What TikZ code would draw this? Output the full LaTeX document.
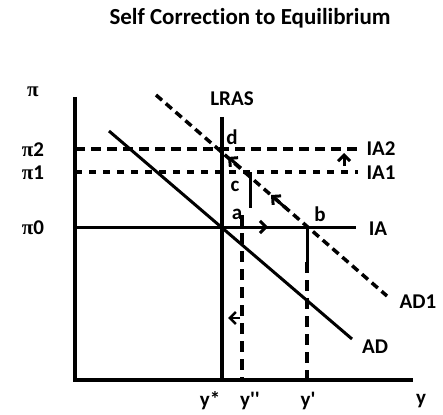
\documentclass[tikz,border=0pt]{standalone}
\usepackage{fontspec}
\setmainfont{Carlito}[Ligatures={TeXOff,CommonOff}]
\newfontfamily\pifont{Liberation Serif}
\usetikzlibrary{arrows.meta}
\begin{document}
\begin{tikzpicture}[x=1pt,y=-1pt,
  axis/.style={line width=3.5pt},
  curve/.style={line width=3pt},
  dashA/.style={line width=3.5pt, dash pattern=on 10pt off 6pt},
  dashB/.style={line width=3.5pt, dash pattern=on 7pt off 7pt},
  dashC/.style={line width=3.5pt, dash pattern=on 11pt off 7pt},
  dashD/.style={line width=3.5pt, dash pattern=on 8pt off 5pt},
  lbl/.style={font=\bfseries\fontsize{21}{21}\selectfont, inner sep=0pt},
  arr/.style={line width=3pt, -{Straight Barb[length=6pt,width=12pt]}}]
\useasboundingbox (0,0) rectangle (443,414);
\node[font=\bfseries\fontsize{23}{23}\selectfont, inner sep=0pt] (title) at (250,18) {Self Correction to Equilibrium};
% coordinates
\coordinate (O) at (75,380);
\coordinate (Ytop) at (75,97);
\coordinate (Xend) at (413,380);
\coordinate (Ltop) at (222,117);
\coordinate (Lbot) at (222,380);
\coordinate (IAl) at (75,227);
\coordinate (IAr) at (356,227);
\coordinate (IA1l) at (75,172);
\coordinate (IA1r) at (358,172);
\coordinate (IA2l) at (75,149);
\coordinate (IA2r) at (358,149);
\coordinate (ADs) at (109,131);
\coordinate (ADe) at (352,339);
\coordinate (AD1s) at (156,95);
\coordinate (AD1e) at (387,296);
\coordinate (ypt) at (307,227);
\coordinate (ypm) at (307,262);
\coordinate (ypb) at (307,380);
\coordinate (yppt) at (242,215);
\coordinate (yppb) at (242,380);
\coordinate (ct) at (250,172);
\coordinate (cb) at (250,208);
% axes
\draw[axis] (Ytop) -- (O) -- (Xend);
\draw[axis] (Ltop) -- (Lbot);
% IA lines
\draw[curve] (IAl) -- (IAr);
\draw[dashB] (IA1l) -- (IA1r);
\draw[dashA] (IA2l) -- (IA2r);
% AD curves
\draw[curve] (ADs) -- (ADe);
\draw[dashD] (AD1s) -- (AD1e);
% verticals
\draw[curve] (ypt) -- (ypm);
\draw[dashC] (ypm) -- (ypb);
\draw[dashC] (yppt) -- (yppb);
\draw[curve] (ct) -- (cb);
% arrows
\coordinate (a1t) at (252,227); \coordinate (a1h) at (268,227);
\draw[arr] (a1t) -- (a1h);
\coordinate (a2t) at (288,210); \coordinate (a2h) at (271,195);
\draw[arr] (a2t) -- (a2h);
\coordinate (a3t) at (241,168); \coordinate (a3h) at (228,157);
\draw[arr] (a3t) -- (a3h);
\coordinate (a4t) at (344,166); \coordinate (a4h) at (344,153);
\draw[arr] (a4t) -- (a4h);
\coordinate (a5t) at (240,318); \coordinate (a5h) at (228,318);
\draw[arr, line width=2.5pt] (a5t) -- (a5h);
% labels
\node[lbl] (pi) at (33,92) {\pifont π};
\node[lbl] (pi2) at (33,150) {{\pifont π}2};
\node[lbl] (pi1) at (33,173) {{\pifont π}1};
\node[lbl] (pi0) at (33,228) {{\pifont π}0};
\node[lbl] (lras) at (232,99) {LRAS};
\node[lbl] (d) at (232,137) {d};
\node[lbl] (c) at (235,186) {c};
\node[lbl] (a) at (237,214) {a};
\node[lbl] (b) at (320,214) {b};
\node[lbl] (ia2) at (381,149) {IA2};
\node[lbl] (ia1) at (381,173) {IA1};
\node[lbl] (ia) at (378,229) {IA};
\node[lbl] (ad1) at (418,302) {AD1};
\node[lbl] (ad) at (375,347) {AD};
\node[lbl] (ys) at (210,401) {y*};
\node[lbl] (ypp) at (250,401) {y''};
\node[lbl] (yp) at (308,401) {y'};
\node[lbl] (y) at (421,401) {y};
\end{tikzpicture}
\end{document}
